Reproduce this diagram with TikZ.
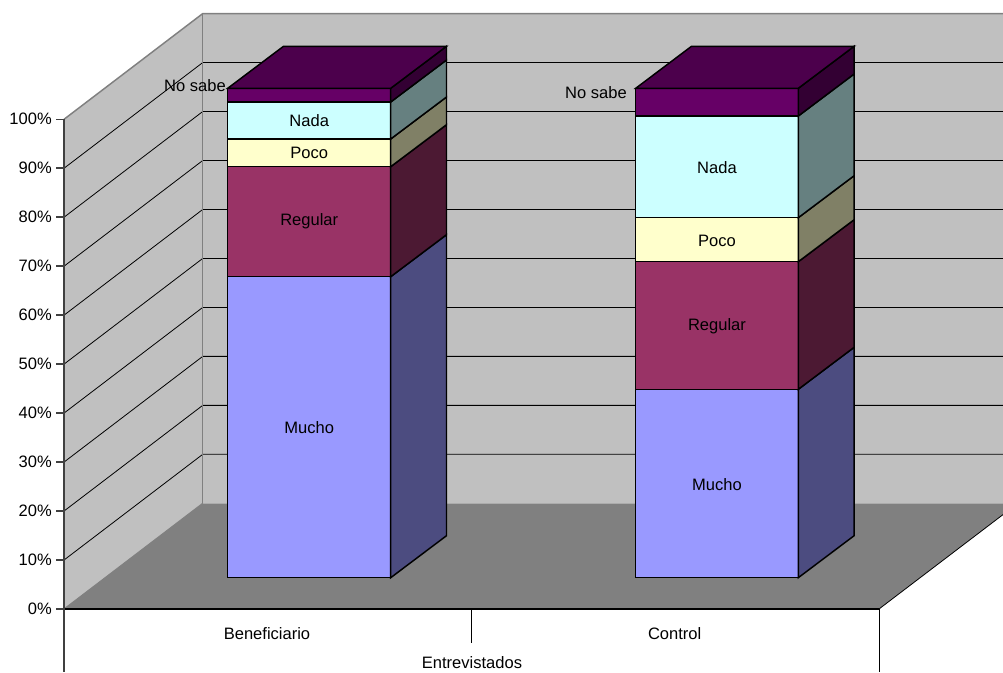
\documentclass[tikz,border=0pt]{standalone}
\usepackage{fontspec}
\setmainfont{Liberation Sans}
\definecolor{wallc}{HTML}{C0C0C0}
\definecolor{floorc}{HTML}{808080}
\definecolor{edgec}{HTML}{808080}
\definecolor{axisc}{HTML}{404040}
\definecolor{muchoF}{HTML}{9999FF}\definecolor{muchoS}{HTML}{4C4C80}
\definecolor{regF}{HTML}{993366}\definecolor{regS}{HTML}{4C1933}
\definecolor{pocoF}{HTML}{FFFFCC}\definecolor{pocoS}{HTML}{808066}
\definecolor{nadaF}{HTML}{CCFFFF}\definecolor{nadaS}{HTML}{668080}
\definecolor{nsF}{HTML}{660066}\definecolor{nsS}{HTML}{330033}\definecolor{nsT}{HTML}{4C004C}
\tikzset{
  barline/.style={draw=black, line width=1.1pt, line join=miter},
  grid/.style={draw=black, line width=0.6pt},
  wedge/.style={draw=edgec, line width=1.1pt},
  lbl/.style={font=\fontsize{12.4}{14}\selectfont, inner sep=0pt},
}
% #1 x1, #2 x2, #3 ytop, #4 ybot, #5 front colour, #6 side colour
\newcommand\barseg[6]{%
  \filldraw[barline, fill=#5] (#1,#3) rectangle (#2,#4);
  \filldraw[barline, fill=#6] (#2,#3) -- ({#2+55.8},{#3-42}) -- ({#2+55.8},{#4-42}) -- (#2,#4) -- cycle;
}
% #1 x1, #2 x2, #3 ytop, #4 top colour
\newcommand\bartop[4]{%
  \filldraw[barline, fill=#4] (#1,#3) -- ({#1+55.8},{#3-42}) -- ({#2+55.8},{#3-42}) -- (#2,#3) -- cycle;
}
\begin{document}
\begin{tikzpicture}[x=0.75pt, y=-0.75pt]
\useasboundingbox (0,0) rectangle (1003,672);
% walls
\fill[wallc] (64,609) -- (64,119.3) -- (202.7,13.6) -- (202.7,503.3) -- cycle;
\fill[wallc] (202.7,13.6) rectangle (1003,503.3);
% gridlines
\foreach \k in {1,...,9} {
  \pgfmathsetmacro\yy{609-48.97*\k}
  \draw[grid] (64,\yy) -- (202.7,{\yy-105.7}) -- (1003,{\yy-105.7});
}
% wall edges
\draw[wedge] (64,119.3) -- (202.7,13.6) -- (1003,13.6);
\draw[wedge] (202.7,13.6) -- (202.7,503.3);
% floor
\fill[floorc] (64,609) -- (202.7,503.3) -- (1003,503.3) -- (1003,514.6) -- (879,609) -- cycle;
\draw[draw=edgec, line width=0.8pt] (64,609) -- (202.7,503.3);
\draw[draw=black, line width=0.6pt] (879,609) -- (1003,514.6);
% front face lines
\draw[draw=black, line width=1pt] (64,609) -- (879,609);
\draw[draw=black, line width=0.6pt] (879,609) -- (879,672);
\draw[draw=black, line width=0.6pt] (471.7,609) -- (471.7,643);
% value axis
\draw[draw=axisc, line width=1.2pt] (64,119.3) -- (64,672);
\foreach \k/\t in {0/0,1/10,2/20,3/30,4/40,5/50,6/60,7/70,8/80,9/90,10/100} {
  \pgfmathsetmacro\yy{609-48.97*\k}
  \draw[draw=axisc, line width=1.2pt] (56,\yy) -- (64,\yy);
  \node[lbl, anchor=east] (tick\k) at (52,\yy) {\t\%};
}
% bar Beneficiario
\barseg{227.7}{390.7}{276.7}{577.7}{muchoF}{muchoS}
\barseg{227.7}{390.7}{166.7}{276.7}{regF}{regS}
\barseg{227.7}{390.7}{139}{166.7}{pocoF}{pocoS}
\barseg{227.7}{390.7}{102}{139}{nadaF}{nadaS}
\barseg{227.7}{390.7}{88.3}{102}{nsF}{nsS}
\bartop{227.7}{390.7}{88.3}{nsT}
% bar Control
\barseg{635.7}{798.3}{389.3}{577.7}{muchoF}{muchoS}
\barseg{635.7}{798.3}{261.7}{389.3}{regF}{regS}
\barseg{635.7}{798.3}{217.7}{261.7}{pocoF}{pocoS}
\barseg{635.7}{798.3}{116}{217.7}{nadaF}{nadaS}
\barseg{635.7}{798.3}{88.3}{116}{nsF}{nsS}
\bartop{635.7}{798.3}{88.3}{nsT}
% segment labels
\node[lbl] (b-mucho) at (309.2,427.2) {Mucho};
\node[lbl] (b-reg) at (309.2,221.7) {Regular};
\node[lbl] (b-poco) at (309.2,152.9) {Poco};
\node[lbl] (b-nada) at (309.2,120.5) {Nada};
\node[lbl, anchor=east] (b-ns) at (226,86) {No sabe};
\node[lbl] (c-mucho) at (717,484.3) {Mucho};
\node[lbl] (c-reg) at (717,326.7) {Regular};
\node[lbl] (c-poco) at (717,240.5) {Poco};
\node[lbl] (c-nada) at (717,168) {Nada};
\node[lbl, anchor=east] (c-ns) at (627,92.5) {No sabe};
% category labels
\node[lbl] (cat1) at (267,633.5) {Beneficiario};
\node[lbl] (cat2) at (674.7,633.5) {Control};
\node[lbl] (axtitle) at (472,663) {Entrevistados};
\end{tikzpicture}
\end{document}
